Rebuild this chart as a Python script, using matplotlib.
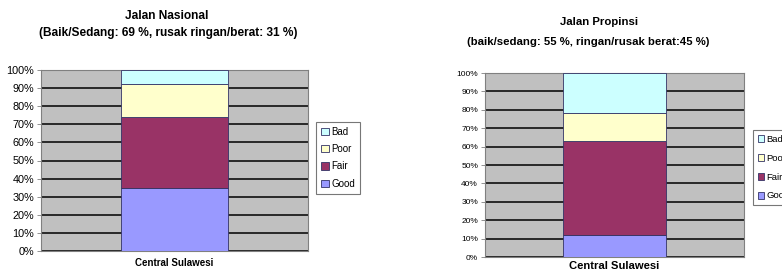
import matplotlib.pyplot as plt
import numpy as np

plt.rcParams["font.family"] = ["Liberation Sans", "DejaVu Sans"]

categories = ["Central Sulawesi"]
series = ["Good", "Fair", "Poor", "Bad"]
colors = ["#9999FF", "#993366", "#FFFFCC", "#CCFFFF"]

# percentages
nasional = [35, 39, 18, 8]
propinsi = [12, 51, 15, 22]

yticks = np.arange(0, 101, 10)
ytick_labels = [f"{v}%" for v in yticks]

fig = plt.figure(figsize=(7.82, 2.74), dpi=100)
W, H = 782, 274


def panel(rect, values, tick_fs, xl_fs, xl_pad, leg_pos, leg_fs, leg_sp, hl, tp):
    x0, y0, x1, y1 = rect
    ax = fig.add_axes([x0 / W, (H - y1) / H, (x1 - x0) / W, (y1 - y0) / H])
    ax.set_facecolor("#C0C0C0")
    bottom = 0
    bars = []
    for name, v, c in zip(series, values, colors):
        b = ax.bar(0, v, 0.4, bottom=bottom, color=c, edgecolor="#333366",
                   linewidth=0.6, label=name, zorder=3)
        bars.append(b)
        bottom += v
    ax.set_xlim(-0.5, 0.5)
    ax.set_ylim(0, 100)
    ax.set_yticks(yticks)
    ax.set_yticklabels(ytick_labels, fontsize=tick_fs)
    ax.set_xticks([0])
    ax.set_xticklabels(categories, fontsize=xl_fs, fontweight="bold")
    ax.tick_params(axis="x", length=0, pad=xl_pad)
    ax.tick_params(axis="y", length=3, width=0.6, color="#808080", pad=2)
    ax.grid(axis="y", color="black", linewidth=1.1, zorder=1)
    for s in ax.spines.values():
        s.set_color("#808080")
        s.set_linewidth(0.8)
    leg = fig.legend(bars[::-1], series[::-1], loc="upper left",
                     bbox_to_anchor=(leg_pos[0] / W, 1 - leg_pos[1] / H),
                     fontsize=leg_fs, frameon=True, fancybox=False,
                     edgecolor="#555555", handlelength=hl, handleheight=0.8,
                     handletextpad=tp, labelspacing=leg_sp, borderpad=0.5,
                     borderaxespad=0)
    leg.get_frame().set_linewidth(0.8)
    return ax


panel((41, 70, 308, 251), nasional, 7.8, 7, 5, (316, 122), 7, 0.75, 0.8, 0.3)
panel((485, 73, 744, 257), propinsi, 6, 8.1, 3, (753, 130), 6.8, 1.05, 0.7, 0.2)

fig.text(167 / W, 1 - 16 / H, "Jalan Nasional", ha="center", va="center",
         fontsize=8.6, fontweight="bold")
fig.text(168 / W, 1 - 33 / H, "(Baik/Sedang: 69 %, rusak ringan/berat: 31 %)",
         ha="center", va="center", fontsize=8.6, fontweight="bold")
fig.text(599 / W, 1 - 22 / H, "Jalan Propinsi", ha="center", va="center",
         fontsize=8.2, fontweight="bold")
fig.text(588 / W, 1 - 42 / H, "(baik/sedang: 55 %, ringan/rusak berat:45 %)",
         ha="center", va="center", fontsize=8.2, fontweight="bold")

fig.savefig("out.png", dpi=100)
